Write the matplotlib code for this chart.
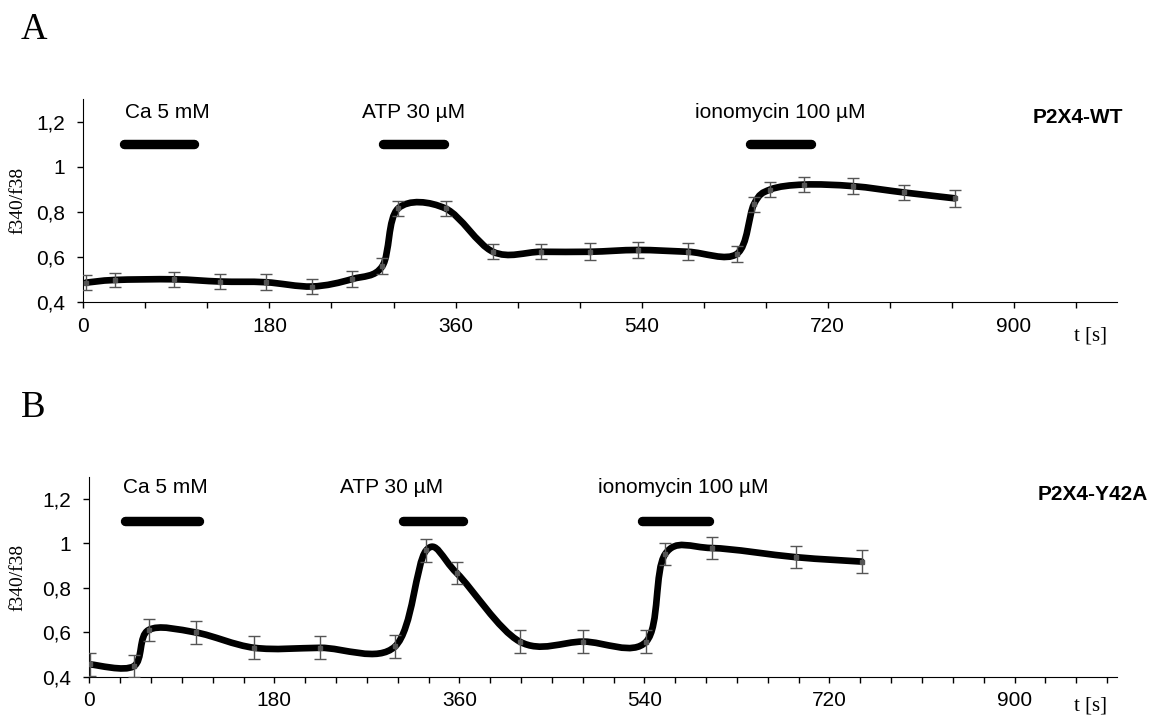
import matplotlib
matplotlib.use("Agg")
import matplotlib.pyplot as plt
import numpy as np
from matplotlib.path import Path
from matplotlib.patches import PathPatch
from matplotlib.ticker import MultipleLocator, FuncFormatter

plt.rcParams['font.family'] = ['Liberation Sans', 'DejaVu Sans']

# --- P2X4-WT (panel A) ---
t_wt = [2.5, 30.5, 87.8, 132.3, 176.4, 221.2, 260.0, 289.3, 304.4, 350.3, 396.2,
        442.8, 490.0, 536.4, 584.8, 632.2, 648.6, 664.3, 697.0, 744.4, 793.6, 842.8]
f_wt = [0.487, 0.499, 0.502, 0.492, 0.489, 0.470, 0.503, 0.561, 0.816, 0.816, 0.624,
        0.624, 0.624, 0.632, 0.624, 0.615, 0.835, 0.900, 0.922, 0.915, 0.887, 0.861]
err_wt = [0.032, 0.031, 0.032, 0.035, 0.035, 0.035, 0.035, 0.035, 0.033, 0.033, 0.034,
          0.034, 0.037, 0.035, 0.037, 0.035, 0.033, 0.035, 0.035, 0.035, 0.035, 0.037]

# --- P2X4-Y42A (panel B) ---
t_y42a = [1.0, 43.2, 57.6, 103.7, 160.6, 224.6, 297.4, 327.6, 357.5, 418.7, 480.5,
          541.8, 560.2, 605.4, 687.0, 751.2]
f_y42a = [0.455, 0.447, 0.610, 0.599, 0.530, 0.530, 0.536, 0.968, 0.866, 0.558, 0.558,
          0.558, 0.952, 0.979, 0.938, 0.918]
err_y42a = [0.05, 0.05, 0.05, 0.05, 0.052, 0.052, 0.05, 0.05, 0.05, 0.05, 0.05,
            0.05, 0.05, 0.05, 0.05, 0.05]

# stimulus: label, start [s], end [s], label centre [s]
stim_wt = [("Ca 5 mM", 39, 107, 81),
           ("ATP 30 µM", 290, 349, 319),
           ("ionomycin 100 µM", 645, 704, 674)]
stim_y42a = [("Ca 5 mM", 34.5, 106.5, 74),
             ("ATP 30 µM", 305.5, 363.5, 294.5),
             ("ionomycin 100 µM", 538, 602.5, 577.5)]


def smooth_path(x, y):
    # excel style smoothed line -> cubic bezier segments through the points
    pts = np.column_stack([x, y])
    n = len(pts)
    verts = [pts[0]]
    codes = [Path.MOVETO]
    for i in range(n - 1):
        p0 = pts[max(i - 1, 0)]
        p1 = pts[i]
        p2 = pts[i + 1]
        p3 = pts[min(i + 2, n - 1)]
        verts += [p1 + (p2 - p0) / 6, p2 - (p3 - p1) / 6, p2]
        codes += [Path.CURVE4] * 3
    return Path(verts, codes)


def comma(v, pos):
    return ('%g' % v).replace('.', ',')


def panel(ax, t, f, err, stims, minor, text_y):
    ax.add_patch(PathPatch(smooth_path(t, f), fill=False, lw=4.8, color='black',
                           capstyle='round', joinstyle='round', zorder=2))
    ax.errorbar(t, f, yerr=err, fmt='s', ms=3, color='#555555', ecolor='#555555',
                elinewidth=1, capsize=4.5, capthick=1, zorder=3)
    for label, t0, t1, tc in stims:
        ax.plot([t0, t1], [1.1, 1.1], color='black', lw=6.8, solid_capstyle='round')
        ax.text(tc, text_y, label, ha='center', va='center', fontsize=15)
    ax.set_xlim(0, 1000)
    ax.set_ylim(0.4, 1.3)
    ax.set_yticks([0.4, 0.6, 0.8, 1.0, 1.2])
    ax.yaxis.set_major_formatter(FuncFormatter(comma))
    ax.xaxis.set_major_locator(MultipleLocator(180))
    ax.xaxis.set_minor_locator(MultipleLocator(minor))
    ax.spines['top'].set_visible(False)
    ax.spines['right'].set_visible(False)
    ax.tick_params(which='both', direction='out', length=4.5, width=1, labelsize=15)
    ax.tick_params(axis='x', pad=6)
    ax.tick_params(axis='y', pad=8.5)


W, H = 1151, 716
fig = plt.figure(figsize=(W / 100, H / 100), dpi=100)

ax1 = fig.add_axes([83.3 / W, 1 - 302.3 / H, 1034 / W, 203 / H])
panel(ax1, t_wt, f_wt, err_wt, stim_wt, 60, 1.24)
ax2 = fig.add_axes([89.3 / W, 1 - 676.7 / H, 1028 / W, 200 / H])
panel(ax2, t_y42a, f_y42a, err_y42a, stim_y42a, 30, 1.25)

serif = ['Liberation Serif', 'DejaVu Serif']
fig.text(21 / W, 1 - 30 / H, 'A', family=serif, fontsize=26.5, ha='left', va='center')
fig.text(21 / W, 1 - 408 / H, 'B', family=serif, fontsize=26.5, ha='left', va='center')
fig.text(17.5 / W, 1 - 200 / H, 'f340/f38', family=serif, fontsize=14,
         rotation=90, ha='center', va='center')
fig.text(17.5 / W, 1 - 577 / H, 'f340/f38', family=serif, fontsize=14,
         rotation=90, ha='center', va='center')
fig.text(1090 / W, 1 - 336 / H, 't [s]', family=serif, fontsize=15, ha='center', va='center')
fig.text(1090 / W, 1 - 706 / H, 't [s]', family=serif, fontsize=15, ha='center', va='center')
fig.text(1123 / W, 1 - 117.3 / H, 'P2X4-WT', fontsize=15, fontweight='bold',
         ha='right', va='center')
fig.text(1148 / W, 1 - 495 / H, 'P2X4-Y42A', fontsize=15, fontweight='bold',
         ha='right', va='center')

fig.savefig('out.png', dpi=100)
